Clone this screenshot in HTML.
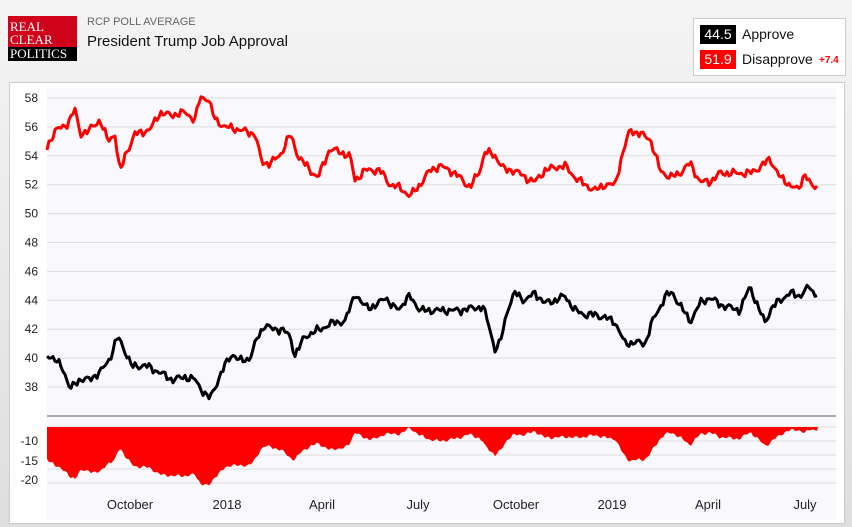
<!DOCTYPE html>
<html><head><meta charset="utf-8"><style>
body{margin:0;width:852px;height:527px;overflow:hidden;background:linear-gradient(#f4f4f4,#dedede);font-family:"Liberation Sans",sans-serif;position:relative}
.logo{position:absolute;left:8px;top:16px;width:69px;height:45px;background:#d0021b;color:#fff;font-family:"Liberation Serif",serif;font-size:13px;line-height:13px;padding-top:4px;box-sizing:border-box;padding-left:2px}
.logo .b{position:absolute;left:0;bottom:0;width:69px;height:14px;background:#000;padding-left:2px;box-sizing:border-box;line-height:14px}
.t1{position:absolute;left:87px;top:16px;font-size:11px;color:#666}
.t2{position:absolute;left:87px;top:33px;font-size:15px;color:#111}
.leg{position:absolute;left:693px;top:18px;width:151px;height:56px;background:#fff;border:1px solid #ccc}
.box{position:absolute;left:6px;width:36px;height:19px;color:#fff;font-size:14px;text-align:center;line-height:19px}
.lab{position:absolute;left:48px;font-size:14px;color:#111}
.panel{position:absolute;left:9px;top:82px;width:834px;height:440px;background:#fff;border:1px solid #ccc}
</style></head><body>
<div class="logo">REAL<br>CLEAR<div class="b">POLITICS</div></div>
<div class="t1">RCP POLL AVERAGE</div>
<div class="t2">President Trump Job Approval</div>
<div class="leg">
<div class="box" style="top:6px;background:#000">44.5</div><div class="lab" style="top:7px">Approve</div>
<div class="box" style="top:31px;background:#f00">51.9</div><div class="lab" style="top:32px">Disapprove</div>
<div style="position:absolute;left:125px;top:36px;font-size:10px;color:#f00;font-weight:bold">+7.4</div>
</div>
<div class="panel"></div>
<svg id="s" width="852" height="527" style="position:absolute;left:0;top:0" font-family="Liberation Sans, sans-serif" font-size="12"></svg>
<script>
var s=document.getElementById('s');var h='';
h+='<rect x="47" y="88" width="789" height="432" fill="#f9f9fd"/>';
function Y(v){return 98+(58-v)*14.45;}
for(var v=38;v<=58;v+=2){var y=Y(v);h+='<line x1="47" x2="836" y1="'+y+'" y2="'+y+'" stroke="#ddd"/>';h+='<text x="38" y="'+(y+4)+'" text-anchor="end" fill="#222">'+v+'</text>';}
[427,441,455,469,483].forEach(function(y){h+='<line x1="47" x2="836" y1="'+y+'" y2="'+y+'" stroke="#ddd"/>';});
[['-10',441],['-15',461],['-20',480]].forEach(function(a){h+='<text x="38" y="'+(a[1]+4)+'" text-anchor="end" fill="#222">'+a[0]+'</text>';});
h+='<line x1="47" x2="836" y1="416" y2="416" stroke="#aaa" stroke-width="2"/>';
[['October',130],['2018',227],['April',322],['July',418],['October',516],['2019',612],['April',708],['July',805]].forEach(function(a){h+='<text x="'+a[1]+'" y="509" text-anchor="middle" fill="#222" font-size="13">'+a[0]+'</text>';});
var D=[47,54.5,55,55.8,65,56,75,57.2,80,55.5,90,55.8,100,56.5,108,55,115,55.5,120,52.8,125,54,135,55.5,150,55.8,160,57,170,56.8,185,57,195,56.5,200,58,208,58,215,56.5,225,56,240,55.8,255,55.5,262,53.5,270,53.5,280,54,290,55.5,298,54,310,53,318,52.5,330,54.5,350,54,355,52.3,365,53,380,53,390,52,400,51.8,410,51.2,420,52,430,53,440,53.3,450,53,460,52.5,470,51.8,480,53,485,54.3,495,54,505,53,515,53,525,52.5,535,52.2,545,53,555,53.2,565,53.3,575,52.5,585,52,595,51.6,605,52,615,52,622,54,630,55.8,640,55.5,650,55.2,660,53,670,52.5,680,52.8,690,53.5,700,52.2,710,52.2,720,52.8,730,52.8,740,52.8,750,52.8,760,53.2,770,53.8,780,52.5,790,52,798,51.6,805,52.8,812,51.8,818,51.9];
var A=[47,40.3,55,39.8,62,39.5,70,37.8,78,38.5,88,38.5,100,39,110,40,118,41.5,125,40.5,132,39.4,145,39.5,160,39,172,38.5,185,38.7,195,38.5,205,37.5,210,37.2,215,38,225,39.5,232,40.3,240,39.8,250,40,258,41.5,265,42.3,272,42,282,42,290,41.5,295,40.2,305,41.5,320,42,335,42.5,345,42.5,355,44.5,362,43.7,375,43.5,385,44.3,392,43.5,400,43.5,410,44.3,420,43.3,440,43.3,460,43.3,475,43.5,483,43.5,488,42.5,495,40.6,500,41,508,43.5,515,44.5,525,44,535,44.5,545,43.8,555,44,565,44.3,575,43.3,585,43,595,43,605,42.8,615,42.5,625,41,635,41.1,645,41,652,42.5,660,43.5,665,44.3,672,44.5,680,43.7,690,42.5,700,43.8,710,44.2,720,43.7,730,43.5,740,43.3,750,45,758,43.5,765,42.5,772,43.5,780,44,790,44.5,800,44.3,810,45,813,44.5,818,44.5];
function interp(K,x){for(var i=0;i<K.length-2;i+=2){if(x>=K[i]&&x<=K[i+2]){var t=(x-K[i])/(K[i+2]-K[i]);return K[i+1]+t*(K[i+3]-K[i+1]);}}return K[K.length-1];}
function nz(x,k){return 0.15*Math.sin(x*0.9+k)+0.12*Math.sin(x*0.41+k*2)+0.08*Math.sin(x*1.9+k*3);}
var pd='',pa='',sp='M47,427';
for(var x=47;x<=818;x+=2){var d=interp(D,x)+nz(x,1),a=interp(A,x)+nz(x,5);
pd+=(x==47?'M':'L')+x+','+Y(d).toFixed(1);pa+=(x==47?'M':'L')+x+','+Y(a).toFixed(1);
var sv=a-d;sp+='L'+x+','+(441+(-10-sv)*4.2).toFixed(1);}
sp+='L818,427Z';
h+='<path d="'+sp+'" fill="#f00"/>';
h+='<path d="'+pd+'" fill="none" stroke="#f00" stroke-width="3" stroke-linejoin="round"/>';
h+='<path d="'+pa+'" fill="none" stroke="#000" stroke-width="3" stroke-linejoin="round"/>';
s.innerHTML=h;
</script>
</body></html>
